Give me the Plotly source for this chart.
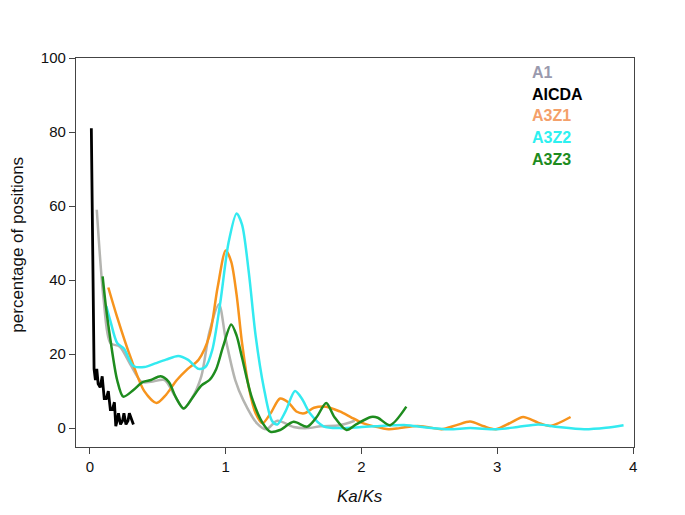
import plotly.graph_objects as go

# AICDA (black)
aicda_x = [0.01, 0.015, 0.025, 0.03, 0.04, 0.05, 0.06, 0.075, 0.09, 0.105, 0.12, 0.135, 0.15, 0.165, 0.18, 0.19, 0.2, 0.21, 0.225, 0.24, 0.25, 0.265, 0.28, 0.29, 0.32]
aicda_y = [81, 60, 30, 16, 13, 16, 12, 11, 14, 8, 8, 10, 5, 5, 7, 0.5, 2, 4, 1, 2, 4, 1, 2, 4, 1]

# A1 (gray)
a1_x = [0.05, 0.1, 0.15, 0.22, 0.3, 0.38, 0.45, 0.55, 0.62, 0.69, 0.75, 0.82, 0.88, 0.95, 1.0, 1.07, 1.13, 1.23, 1.3, 1.38, 1.5, 1.6, 1.7, 1.84, 1.95]
a1_y = [59, 35, 23, 22, 17, 12.5, 12.5, 13, 9, 5.3, 8, 14, 26, 33.5, 24, 13, 7.5, 1.3, -0.3, 2, 0.3, 0, 0.5, 0.8, 2]

# A3Z1 (orange)
a3z1_x = [0.135, 0.2, 0.3, 0.4, 0.49, 0.56, 0.64, 0.72, 0.8, 0.88, 0.94, 1.0, 1.04, 1.08, 1.12, 1.17, 1.22, 1.27, 1.33, 1.4, 1.46, 1.52, 1.58, 1.65, 1.74, 1.84, 1.92, 2.0, 2.1, 2.2, 2.28, 2.41, 2.5, 2.59, 2.7, 2.8, 2.9, 2.99, 3.1, 3.19, 3.3, 3.39, 3.54]
a3z1_y = [38, 30, 19, 10, 6.8, 9, 13, 16, 18.5, 25, 38, 48, 45, 36, 23, 11, 4, 1.3, 4, 8, 7, 4.5, 4, 5.5, 5.8, 4.5, 3, 1.5, 0.4, -0.3, 0, 0.6, 0.2, -0.3, 0.8, 1.8, 0.5, -0.3, 1.5, 3, 1.5, 0.6, 3]

# A3Z2 (cyan)
a3z2_x = [0.12, 0.15, 0.2, 0.25, 0.32, 0.4, 0.48, 0.56, 0.65, 0.72, 0.8, 0.85, 0.9, 0.96, 1.02, 1.08, 1.12, 1.17, 1.22, 1.28, 1.34, 1.38, 1.44, 1.51, 1.56, 1.62, 1.72, 1.84, 2.0, 2.1, 2.33, 2.45, 2.64, 2.8, 3.0, 3.15, 3.3, 3.45, 3.64, 3.8, 3.93]
a3z2_y = [33, 29, 23, 21.5, 16.8, 16.5, 17.5, 18.5, 19.5, 18.5, 16, 16.5, 21, 34, 50, 58, 55, 42, 25, 11, 2, 1, 4.5, 10, 8, 4, 0.5, 0, 0.3, 0.5, 0.8, 0.3, -0.3, 0, -0.3, 0.3, 1, 0.3, -0.3, 0.1, 0.8]

# A3Z3 (green)
a3z3_x = [0.093, 0.12, 0.15, 0.2, 0.245, 0.32, 0.39, 0.45, 0.52, 0.58, 0.63, 0.69, 0.76, 0.82, 0.88, 0.93, 0.98, 1.04, 1.08, 1.12, 1.19, 1.27, 1.33, 1.4, 1.5, 1.6, 1.67, 1.74, 1.8, 1.89, 1.96, 2.07, 2.12, 2.21, 2.33]
a3z3_y = [41, 32, 24, 13, 8.5, 10.3, 12.5, 13, 14, 12.5, 8.5, 5.3, 8.5, 11.5, 13, 16, 22, 28, 25, 19, 8.5, 1.5, -1, -0.5, 1.7, 0.4, 3, 6.8, 3, -0.5, 1, 3, 2.8, 0.8, 5.8]

legend_labels = ["A1", "AICDA", "A3Z1", "A3Z2", "A3Z3"]
legend_colors = ["#9a9aae", "#000000", "#f4a06a", "#2ef0f0", "#1e8c1e"]

x_ticks = [0, 1, 2, 3, 4]
y_ticks = [0, 20, 40, 60, 80, 100]

fig = go.Figure()

series = [
    (a1_x, a1_y, "#b4b4b0", "spline", 2.5),
    (a3z1_x, a3z1_y, "#f7941d", "spline", 2.5),
    (a3z2_x, a3z2_y, "#33eaf0", "spline", 2.5),
    (a3z3_x, a3z3_y, "#1e8c1e", "spline", 2.5),
    (aicda_x, aicda_y, "#000000", "linear", 2.8),
]
for xs, ys, col, shape, w in series:
    fig.add_trace(go.Scatter(x=xs, y=ys, mode="lines",
                             line=dict(color=col, width=w, shape=shape, smoothing=0.8),
                             showlegend=False, hoverinfo="skip"))

for i, (lab, col) in enumerate(zip(legend_labels, legend_colors)):
    fig.add_annotation(text="<b>" + lab + "</b>", x=0.814, y=0.962 - i * 0.0555,
                       xref="paper", yref="paper", xanchor="left", yanchor="middle",
                       showarrow=False, font=dict(family="Liberation Sans, Arial", size=16, color=col))

# axis titles placed as annotations (relative to plot area)
fig.add_annotation(text="<i>Ka</i>/<i>Ks</i>", x=0.509, y=-0.128, xref="paper", yref="paper",
                   xanchor="center", yanchor="middle", showarrow=False,
                   font=dict(family="Liberation Sans, Arial", size=17, color="#111"))
fig.add_annotation(text="percentage of positions", x=-0.104, y=0.52, xref="paper", yref="paper",
                   xanchor="center", yanchor="middle", showarrow=False, textangle=-90,
                   font=dict(family="Liberation Sans, Arial", size=17, color="#111"))

# page body has an 8px margin, so the figure is sized/offset to compensate
fig.update_layout(
    width=669, height=499,
    margin=dict(l=68, r=43, t=50, b=60),
    paper_bgcolor="white", plot_bgcolor="white",
    font=dict(family="Liberation Sans, Arial", size=15, color="#111"),
    xaxis=dict(range=[-0.103, 4.007], tickvals=x_ticks, ticks="outside", ticklen=6,
               tickcolor="#444", showline=True, linecolor="#444", linewidth=1.2, mirror=True,
               showgrid=False, zeroline=False, automargin=False),
    yaxis=dict(range=[-5.1, 100], tickvals=y_ticks, ticks="outside", ticklen=6,
               tickcolor="#444", showline=True, linecolor="#444", linewidth=1.2, mirror=True,
               showgrid=False, zeroline=False, automargin=False),
)

fig.write_html("out.html")
